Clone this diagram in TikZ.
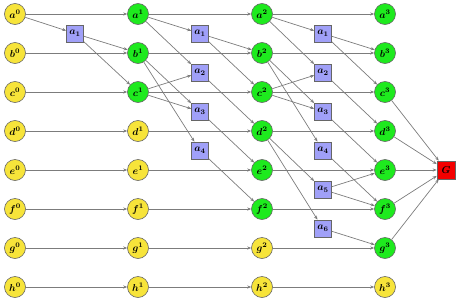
\documentclass[tikz,border=0pt]{standalone}
\usetikzlibrary{arrows.meta}
\definecolor{pend}{HTML}{F7E43A}
\definecolor{done}{HTML}{1EEA1E}
\definecolor{gate}{HTML}{A0A0F8}
\definecolor{goal}{HTML}{F40000}
\definecolor{wire}{HTML}{7C7C7C}

\begin{document}
\begin{tikzpicture}[x=1pt, y=-1pt, >={Stealth[length=4pt, width=3.2pt]},
    st/.style={circle, draw=black!60, line width=0.6pt, minimum size=21pt, inner sep=0pt, font=\boldmath},
    ys/.style={st, fill=pend},
    gs/.style={st, fill=done},
    op/.style={draw=black!60, line width=0.6pt, fill=gate, minimum size=17pt, inner sep=0pt, font=\boldmath},
    ed/.style={->, draw=wire, line width=0.7pt}]

  \useasboundingbox (0,0) rectangle (461,303);

  % states, one column per step
  \foreach \r [count=\i from 0] in {a,b,c,d,e,f,g,h}
    \node[ys] (\r0) at (15, 14+39*\i) {$\r^0$};
  \foreach \r [count=\i from 0] in {a,b,c}
    \node[gs] (\r1) at (138, 14+39*\i) {$\r^1$};
  \foreach \r [count=\i from 3] in {d,e,f,g,h}
    \node[ys] (\r1) at (138, 14+39*\i) {$\r^1$};
  \foreach \r [count=\i from 0] in {a,b,c,d,e,f}
    \node[gs] (\r2) at (262, 14+39*\i) {$\r^2$};
  \foreach \r [count=\i from 6] in {g,h}
    \node[ys] (\r2) at (262, 14+39*\i) {$\r^2$};
  \foreach \r [count=\i from 0] in {a,b,c,d,e,f,g}
    \node[gs] (\r3) at (385, 14+39*\i) {$\r^3$};
  \node[ys] (h3) at (385, 287) {$h^3$};

  \node[draw=black!60, line width=0.6pt, fill=goal, minimum size=18pt, inner sep=0pt, font=\boldmath] (G) at (446,170) {$G$};

  % actions
  \node[op] (p1) at (75, 33.5) {$a_1$};
  \foreach \k [count=\i from 0] in {1,...,4}
    \node[op] (q\k) at (200, 33.5+39*\i) {$a_\k$};
  \foreach \k [count=\i from 0] in {1,...,6}
    \node[op] (r\k) at (323, 33.5+39*\i) {$a_\k$};

  % frame axioms
  \foreach \r in {a,b,c,d,e,f,g,h} {
    \draw[ed] (\r0) -- (\r1);
    \draw[ed] (\r1) -- (\r2);
    \draw[ed] (\r2) -- (\r3);
  }

  % step 0
  \draw[ed] (a0) -- (p1);
  \draw[ed] (p1) -- (b1);
  \draw[ed] (p1) -- (c1);

  % step 1
  \draw[ed] (a1) -- (q1);
  \draw[ed] (a1) -- (q2);
  \draw[ed] (b1) -- (q3);
  \draw[ed] (b1) -- (q4);
  \draw[ed] (c1) -- (q2);
  \draw[ed] (c1) -- (q3);
  \draw[ed] (q1) -- (b2);
  \draw[ed] (q1) -- (c2);
  \draw[ed] (q2) -- (d2);
  \draw[ed] (q3) -- (e2);
  \draw[ed] (q4) -- (f2);

  % step 2
  \draw[ed] (a2) -- (r1);
  \draw[ed] (a2) -- (r2);
  \draw[ed] (b2) -- (r3);
  \draw[ed] (b2) -- (r4);
  \draw[ed] (c2) -- (r2);
  \draw[ed] (c2) -- (r3);
  \draw[ed] (d2) -- (r5);
  \draw[ed] (d2) -- (r6);
  \draw[ed] (r1) -- (b3);
  \draw[ed] (r1) -- (c3);
  \draw[ed] (r2) -- (d3);
  \draw[ed] (r3) -- (e3);
  \draw[ed] (r4) -- (f3);
  \draw[ed] (r5) -- (e3);
  \draw[ed] (r5) -- (f3);
  \draw[ed] (r6) -- (g3);

  % goal
  \foreach \r in {c,d,e,f,g}
    \draw[ed] (\r3) -- (G);
\end{tikzpicture}
\end{document}
